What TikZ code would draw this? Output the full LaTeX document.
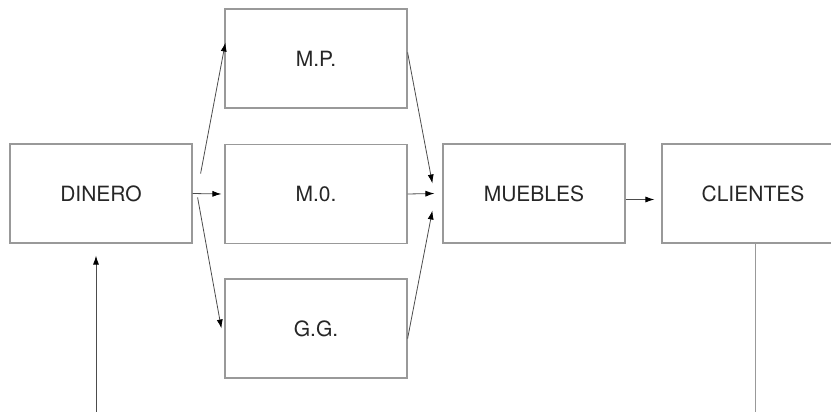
\documentclass[tikz,border=0pt]{standalone}
\usepackage{fontspec}
\setmainfont{TeX Gyre Heros}
\usetikzlibrary{arrows.meta,calc}
\definecolor{boxgray}{gray}{0.6}
\definecolor{wiregray}{gray}{0.3}
\definecolor{textgray}{gray}{0.15}

\begin{document}
\begin{tikzpicture}[x=1pt, y=-1pt,
    bloque/.style={draw=boxgray, line width=1.2pt, minimum width=182pt, minimum height=99pt, inner sep=0pt, text=textgray, font=\fontsize{21}{25}\selectfont},
    flecha/.style={draw=wiregray, line width=0.8pt, -{Latex[length=9pt,width=6pt,black]}},
    linea/.style={draw=boxgray, line width=1pt}]
  \clip (0, 0) rectangle (831, 412);
  \useasboundingbox (0, 0) rectangle (831, 412);
  \draw (101, 193.5) node[bloque] (dinero) {DINERO};
  \draw (316, 58.5) node[bloque] (mp) {M.P.};
  \draw (316, 194) node[bloque] (mo) {M.0.};
  \draw (316, 328.5) node[bloque] (gg) {G.G.};
  \draw (534, 193.5) node[bloque] (muebles) {MUEBLES};
  \draw (753, 193.5) node[bloque] (clientes) {CLIENTES};
  \draw[flecha] ($(dinero.east)+(8, -20)$) -- ($(mp.west)+(1, -16)$);
  \draw[flecha] (dinero.east) -- ($(mo.west)+(-3, 0)$);
  \draw[flecha] ($(dinero.east)+(5, 4)$) -- ($(gg.west)+(-3, 0)$);
  \draw[flecha] ($(mp.east)+(0, -6)$) -- ($(muebles.west)+(-10, -10)$);
  \draw[flecha] (mo.east) -- ($(muebles.west)+(-8, 0)$);
  \draw[flecha] ($(gg.east)+(0, 10)$) -- ($(muebles.west)+(-10, 17)$);
  \draw[flecha] ($(muebles.east)+(0, 6)$) -- ($(clientes.west)+(-7, 6)$);
  \draw (96, 412) coordinate (retorno);
  \draw[flecha] (retorno) -- ($(dinero.south)+(-5, 12)$);
  \draw (755, 412) coordinate (salida);
  \draw[linea] ($(clientes.south)+(2, 0)$) -- (salida);
\end{tikzpicture}
\end{document}
